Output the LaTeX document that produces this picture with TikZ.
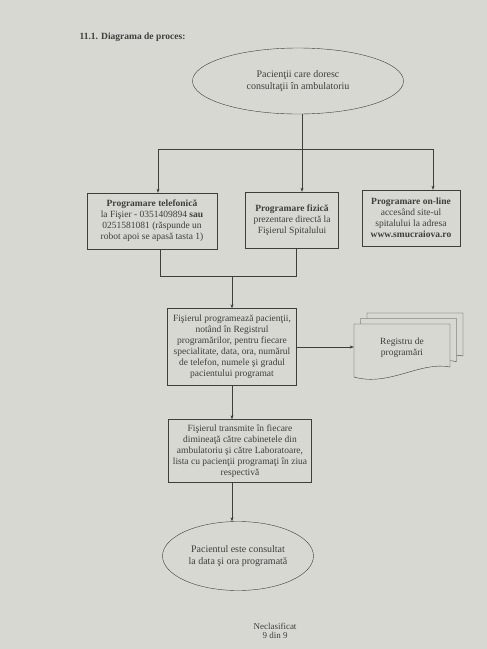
\documentclass[tikz,border=0pt]{standalone}
\usepackage{fontspec}
\setmainfont{Liberation Serif}
\usetikzlibrary{shapes.geometric,arrows.meta}

\definecolor{paper}{RGB}{216,216,211}
\definecolor{ink}{RGB}{62,62,62}

\tikzset{
  box/.style={draw=ink, align=center, inner sep=2pt, text=ink,
    font=\fontsize{9.5}{11}\selectfont},
  oval/.style={draw=ink, ellipse, align=center, inner sep=0pt, text=ink,
    font=\fontsize{10}{12}\selectfont},
  flow/.style={draw=ink, -{Stealth[length=4pt,width=3pt]}},
  wire/.style={draw=ink},
}

% one sheet of the register, top left corner at (#1,#2)
\newcommand{\regsheet}[2]{%
  \filldraw[draw=ink, fill=paper] (#1,#2) -- ++(96,0) -- ++(0,43)
    .. controls ++(-30,-6) and ++(35,10) .. ++(-96,10) -- cycle;}

\begin{document}
\begin{tikzpicture}[x=1pt, y={(0pt,-1pt)}]
\fill[paper] (0,0) rectangle (487,649);

\node[anchor=west, text=ink, font=\fontsize{9.5}{11}\selectfont\bfseries] (title) at (76,37) {11.1. Diagrama de proces:};

\node[oval, minimum width=211, minimum height=66] (pac) at (298,81) {Pacienţii care doresc\\consultaţii în ambulatoriu};

\node[box, minimum width=130, minimum height=56] (tel) at (152,221)
  {\textbf{Programare telefonică}\\la Fişier - 0351409894 \textbf{sau}\\0251581081 (răspunde un\\robot apoi se apasă tasta 1)};
\node[box, minimum width=93, minimum height=56] (fiz) at (292,220)
  {\textbf{Programare fizică}\\prezentare directă la\\Fişierul Spitalului};
\node[box, minimum width=98, minimum height=56] (onl) at (411,218)
  {\textbf{Programare on-line}\\accesând site-ul\\spitalului la adresa\\\textbf{www.smucraiova.ro}};

\node[box, minimum width=129, minimum height=77] (prog) at (232,347)
  {Fişierul programează pacienţii,\\notând în Registrul\\programărilor, pentru fiecare\\specialitate, data, ora, numărul\\de telefon, numele şi gradul\\pacientului programat};

\regsheet{367}{313}
\regsheet{360.5}{318.5}
\regsheet{354}{324}
\node[box, draw=none, minimum width=96, minimum height=53] (reg) at (402,348) {Registru de\\programări};

\node[box, minimum width=143, minimum height=63] (trans) at (240,451)
  {Fişierul transmite în fiecare\\dimineaţă către cabinetele din\\ambulatoriu şi către Laboratoare,\\lista cu pacienţii programaţi în ziua\\respectivă};

\node[oval, minimum width=151, minimum height=69] (fin) at (238,556) {Pacientul este consultat\\la data şi ora programată};

\node[text=ink, font=\fontsize{9}{10}\selectfont] (necl) at (275,626) {Neclasificat};
\node[text=ink, font=\fontsize{9}{10}\selectfont] (pag) at (275,635) {9 din 9};

% split towards the three ways of booking
\coordinate (s) at (302,149);
\coordinate (sl) at (158,149);
\coordinate (sr) at (433,149);
\draw[wire] (pac.south -| s) -- (s);
\draw[wire] (sl) -- (sr);
\draw[flow] (sl) -- (sl |- tel.north);
\draw[flow] (s) -- (s |- fiz.north);
\draw[flow] (sr) -- (sr |- onl.north);

% join of phone and desk booking
\coordinate (ml) at (160,276);
\coordinate (mr) at (296,276);
\coordinate (j) at (232,276);
\draw[wire] (tel.south -| ml) -- (ml) -- (mr) -- (fiz.south -| mr);
\draw[flow] (j) -- (j |- prog.north);

\draw[flow] (prog.east) -- (prog.east -| reg.west);
\draw[flow] (prog.south) -- (prog.south |- trans.north);
\draw[flow] (trans.south -| prog.south) -- (prog.south |- fin.north);
\end{tikzpicture}
\end{document}
